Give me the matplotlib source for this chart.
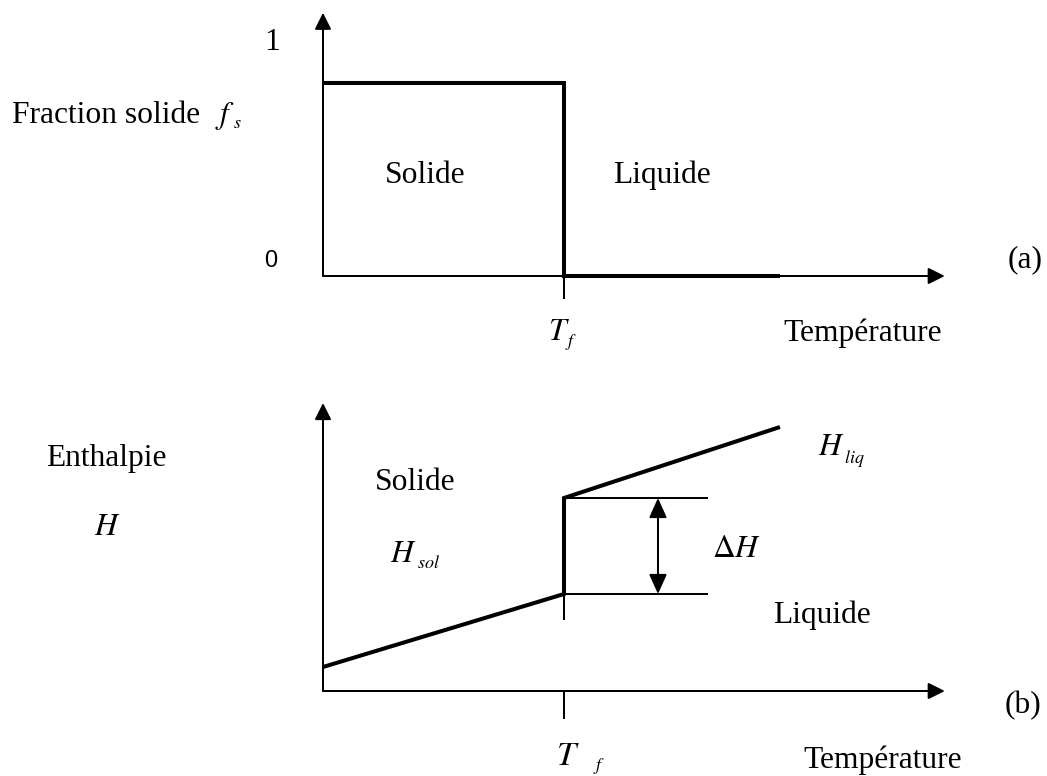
import matplotlib
matplotlib.use("Agg")
import matplotlib.pyplot as plt

# Réglages généraux
plt.rcParams['font.family'] = ['Liberation Serif', 'DejaVu Serif']
plt.rcParams['mathtext.fontset'] = 'stix'

W, H = 1047, 776
FS = 22.7          # taille du texte principal
FS_IND = 13        # taille des indices
LW_AXE = 1.44      # traits fins
LW_EPAIS = 2.9     # courbes

# Données (a) : fraction solide
Tf = 1.0
T_fs = [0.0, Tf, Tf, 1.896]
fs = [1.0, 1.0, 0.0, 0.0]

# Données (b) : enthalpie
T_H = [0.0, Tf, Tf, 1.896]
H_val = [0.24, 0.97, 1.93, 2.64]
H_sol_Tf = 0.97
H_liq_Tf = 1.93
T_niveau = 1.593   # fin des traits horizontaux
T_fleche = 1.39    # position de la double flèche

T_max = 2.58


def axe_fleche(ax, x0, y0, x1, y1):
    ax.annotate('', xy=(x1, y1), xytext=(x0, y0),
                arrowprops=dict(arrowstyle='-|>,head_length=10,head_width=5',
                                mutation_scale=1, lw=LW_AXE, color='black',
                                shrinkA=0, shrinkB=0),
                annotation_clip=False)


def symbole(ax, x, y, lettre, xi, yi, indice, taille=FS):
    # lettre italique + indice plus petit, décalé vers le bas
    ax.text(x, y, '$' + lettre + '$', fontsize=taille, va='baseline')
    ax.text(xi, yi, '$' + indice + '$', fontsize=FS_IND, va='baseline')


fig = plt.figure(figsize=(W / 100, H / 100), dpi=100)

# ---------- (a) ----------
ax_a = fig.add_axes([323 / W, (H - 276) / H, 2.6 * 241 / W, 1.4 * 193 / H])
ax_a.set_xlim(0, 2.6)
ax_a.set_ylim(0, 1.4)
ax_a.axis('off')

axe_fleche(ax_a, 0, 0, T_max, 0)
axe_fleche(ax_a, 0, 0, 0, 1.364)
ax_a.plot([Tf, Tf], [0, -0.114], color='black', lw=LW_AXE, clip_on=False)
ax_a.plot(T_fs, fs, color='black', lw=LW_EPAIS, clip_on=False,
          solid_joinstyle='miter', solid_capstyle='butt')

ax_a.text(-0.212, 1.171, '1', fontsize=FS, ha='center', va='baseline')
ax_a.text(-0.216, 0.047, '0', fontsize=17, ha='center', va='baseline',
          family=['Liberation Sans', 'DejaVu Sans'])
ax_a.text(-1.290, 0.793, 'Fraction solide', fontsize=FS, va='baseline')
symbole(ax_a, -0.448, 0.793, 'f', -0.373, 0.767, 's')
ax_a.text(0.257, 0.482, 'Solide', fontsize=FS, va='baseline')
ax_a.text(1.203, 0.482, 'Liquide', fontsize=FS, va='baseline')
ax_a.text(2.842, 0.047, '(a)', fontsize=FS, va='baseline')
symbole(ax_a, 0.934, -0.332, 'T', 1.004, -0.363, 'f')
ax_a.text(1.909, -0.337, 'Température', fontsize=FS, va='baseline')

# ---------- (b) ----------
ax_b = fig.add_axes([323 / W, (H - 691) / H, 2.6 * 241 / W, 3.0 * 100 / H])
ax_b.set_xlim(0, 2.6)
ax_b.set_ylim(0, 3.0)
ax_b.axis('off')

axe_fleche(ax_b, 0, 0, T_max, 0)
axe_fleche(ax_b, 0, 0, 0, 2.88)
ax_b.plot([Tf, Tf], [0, -0.27], color='black', lw=LW_AXE, clip_on=False)
ax_b.plot([Tf, Tf], [H_sol_Tf, H_sol_Tf - 0.25], color='black', lw=LW_AXE, clip_on=False)
ax_b.plot([Tf, T_niveau], [H_sol_Tf, H_sol_Tf], color='black', lw=LW_AXE, clip_on=False)
ax_b.plot([Tf, T_niveau], [H_liq_Tf, H_liq_Tf], color='black', lw=LW_AXE, clip_on=False)
ax_b.plot(T_H, H_val, color='black', lw=LW_EPAIS, clip_on=False,
          solid_joinstyle='miter', solid_capstyle='butt')
ax_b.annotate('', xy=(T_fleche, H_liq_Tf), xytext=(T_fleche, H_sol_Tf),
              arrowprops=dict(arrowstyle='<|-|>,head_length=12,head_width=5.4',
                              mutation_scale=1, lw=LW_AXE, color='black',
                              shrinkA=0, shrinkB=0),
              annotation_clip=False)

ax_b.text(-1.149, 2.25, 'Enthalpie', fontsize=FS, va='baseline')
ax_b.text(-0.950, 1.56, '$H$', fontsize=FS, va='baseline')
ax_b.text(0.216, 2.01, 'Solide', fontsize=FS, va='baseline')
symbole(ax_b, 0.278, 1.29, 'H', 0.390, 1.23, 'sol')
symbole(ax_b, 2.054, 2.36, 'H', 2.162, 2.28, 'liq')
ax_b.text(1.614, 1.34, r'$\Delta H$', fontsize=FS, va='baseline')
ax_b.text(1.867, 0.68, 'Liquide', fontsize=FS, va='baseline')
ax_b.text(2.830, -0.22, '(b)', fontsize=FS, va='baseline')
symbole(ax_b, 0.967, -0.74, 'T', 1.120, -0.79, 'f', taille=FS + 2)
ax_b.text(1.992, -0.77, 'Température', fontsize=FS, va='baseline')

fig.savefig('out.png', dpi=100)
